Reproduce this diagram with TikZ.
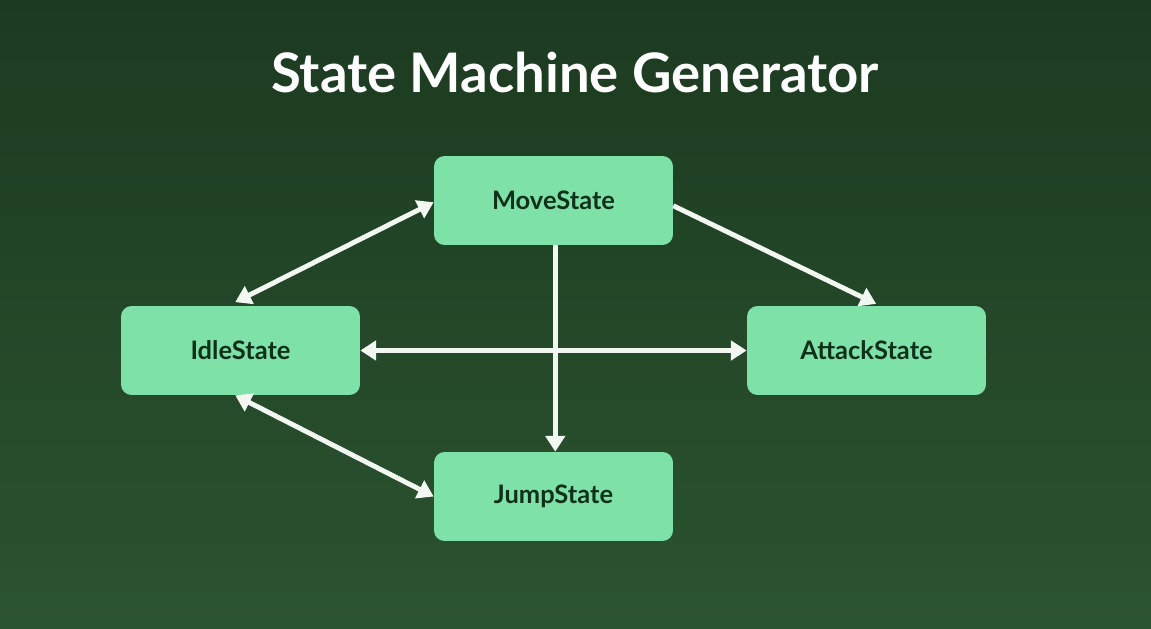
\documentclass[tikz,border=0pt]{standalone}
\usepackage{fontspec}
\setmainfont{Lato}
\usetikzlibrary{arrows.meta}
\definecolor{bgTop}{HTML}{1C3A20}
\definecolor{bgBot}{HTML}{2B5430}
\definecolor{boxFill}{HTML}{7DE1A8}
\definecolor{boxText}{HTML}{10301A}
\definecolor{arrowCol}{HTML}{F2F7F2}
\tikzset{
	every state/.style={
		rectangle,
		rounded corners=6pt,
		fill=boxFill,
		minimum width=4.78cm,
		minimum height=1.78cm,
		text=boxText,
		font=\fontsize{14.5}{17}\selectfont\bfseries
	},
	link/.style={
		draw=arrowCol,
		line width=2.8pt,
		-{Triangle[length=9pt,width=11pt]}
	},
	both link/.style={
		link,
		{Triangle[length=9pt,width=11pt]}-{Triangle[length=9pt,width=11pt]}
	},
}
\begin{document}
\begin{tikzpicture}[x=0.02cm,y=-0.02cm]
\shade[top color=bgTop,bottom color=bgBot] (0,0) rectangle (1151,628);
\useasboundingbox (0,0) rectangle (1151,628);

\node[text=white,font=\fontsize{31}{36}\selectfont\bfseries] (title) at (575,72) {State Machine Generator};

\node[every state] (move) at (553.5,200.5) {MoveState};
\node[every state] (idle) at (240.5,350.5) {IdleState};
\node[every state] (attack) at (866.5,350.5) {AttackState};
\node[every state] (jump) at (553.5,496.5) {JumpState};

\draw[both link] ([xshift=-3pt,yshift=2pt]idle.north) -- ([yshift=-1pt]move.west);
\draw[both link] (idle.east) -- (attack.west);
\draw[link] ([yshift=-3pt]move.east) -- ([xshift=5.5pt,yshift=1pt]attack.north);
\draw[link] ([xshift=1pt]move.south) -- ([xshift=1pt]jump.north);
\draw[both link] ([xshift=-3pt]idle.south) -- (jump.west);
\end{tikzpicture}
\end{document}
